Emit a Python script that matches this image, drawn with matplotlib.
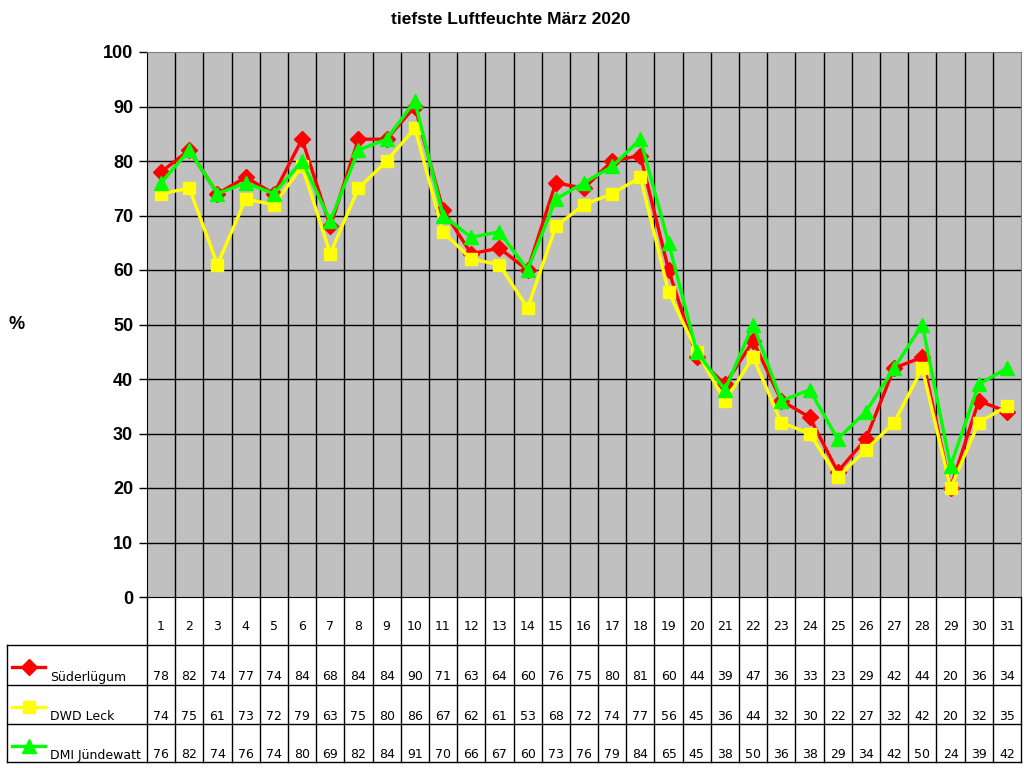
import numpy as np
import matplotlib.pyplot as plt

# Daten
tage = list(range(1, 32))
suederluegum = [78, 82, 74, 77, 74, 84, 68, 84, 84, 90, 71, 63, 64, 60, 76, 75,
                80, 81, 60, 44, 39, 47, 36, 33, 23, 29, 42, 44, 20, 36, 34]
dwd_leck = [74, 75, 61, 73, 72, 79, 63, 75, 80, 86, 67, 62, 61, 53, 68, 72,
            74, 77, 56, 45, 36, 44, 32, 30, 22, 27, 32, 42, 20, 32, 35]
dmi_juendewatt = [76, 82, 74, 76, 74, 80, 69, 82, 84, 91, 70, 66, 67, 60, 73, 76,
                  79, 84, 65, 45, 38, 50, 36, 38, 29, 34, 42, 50, 24, 39, 42]

serien = [
    ('Süderlügum', suederluegum, '#ff0000', 'D', 8),
    ('DWD Leck', dwd_leck, '#ffff00', 's', 9),
    ('DMI Jündewatt', dmi_juendewatt, '#00ff00', '^', 10),
]

W, H = 1024, 768
fig = plt.figure(figsize=(W / 100, H / 100), dpi=100)

# Plotbereich in Pixel
px_l, px_r, px_t, px_b = 147, 1021, 52, 597
ax = fig.add_axes([px_l / W, 1 - px_b / H, (px_r - px_l) / W, (px_b - px_t) / H])
ax.set_facecolor('#c0c0c0')
ax.set_xlim(0.5, 31.5)
ax.set_ylim(0, 100)

for x in np.arange(1.5, 31.5, 1):
    ax.axvline(x, color='black', linewidth=1.0, zorder=1)
for y in range(10, 100, 10):
    ax.axhline(y, color='black', linewidth=1.0, zorder=1)

for name, werte, farbe, marker, ms in serien:
    ax.plot(tage, werte, color=farbe, linewidth=2.4, marker=marker,
            markersize=ms, markeredgecolor=farbe, zorder=3, clip_on=False)

ax.set_xticks([])
ax.set_yticks(range(0, 101, 10))
ax.set_yticklabels([str(v) for v in range(0, 101, 10)],
                   fontfamily='Liberation Sans', fontweight='bold', fontsize=13)
ax.tick_params(axis='y', length=6, width=1, pad=4, colors='black')
for s in ['top', 'right']:
    ax.spines[s].set_color('#808080')
ax.spines['left'].set_color('black')
ax.spines['bottom'].set_color('black')

fig.text(511 / W, 1 - 20 / H, 'tiefste Luftfeuchte März 2020', ha='center', va='center',
         fontfamily='Liberation Sans', fontweight='bold', fontsize=12.5)
fig.text(17 / W, 1 - 325 / H, '%', ha='center', va='center',
         fontfamily='Liberation Sans', fontweight='bold', fontsize=13)

# Datentabelle
tb_t, tb_b = 597, 765
tx = fig.add_axes([px_l / W, 1 - tb_b / H, (px_r - px_l) / W, (tb_b - tb_t) / H])
tx.set_xlim(0.5, 31.5)
tx.set_ylim(tb_b - tb_t, 0)
tx.axis('off')
spalte = (px_r - px_l) / 31
x_links = 0.5 - (px_l - 7) / spalte

zeilen = [48, 88, 127, 165]
for x in np.arange(0.5, 32.5, 1):
    tx.plot([x, x], [0, zeilen[-1]], color='black', linewidth=1.0, clip_on=False)
tx.plot([x_links, x_links], [zeilen[0], zeilen[-1]], color='black', linewidth=1.0, clip_on=False)
for y in zeilen:
    tx.plot([x_links, 31.5], [y, y], color='black', linewidth=1.0, clip_on=False)

tfont = dict(fontfamily='DejaVu Sans', fontsize=9, ha='center', va='center')
for t in tage:
    tx.text(t, 30, str(t), **tfont)

wert_y = [80, 119, 158]
marker_y = [70, 110, 149]
for (name, werte, farbe, marker, ms), wy, my in zip(serien, wert_y, marker_y):
    for t, v in zip(tage, werte):
        tx.text(t, wy, str(v), **tfont)
    lx0 = x_links + 5 / spalte
    lx1 = x_links + 38 / spalte
    tx.plot([lx0, lx1], [my, my], color=farbe, linewidth=2.4, clip_on=False)
    tx.plot([(lx0 + lx1) / 2], [my], color=farbe, marker=marker, markersize=ms,
            markeredgecolor=farbe, clip_on=False)
    tx.text(x_links + 43 / spalte, wy, name, fontfamily='DejaVu Sans', fontsize=9,
            ha='left', va='center')

fig.savefig('out.png', dpi=100)
